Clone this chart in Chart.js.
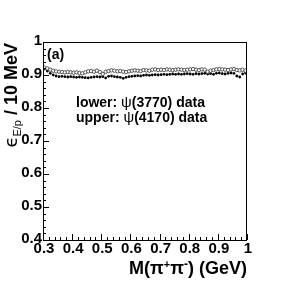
<!DOCTYPE html>
<html><head><meta charset="utf-8">
<script src="https://cdn.jsdelivr.net/npm/chart.js@4/dist/chart.umd.min.js"></script>
<style>html,body{margin:0;padding:0;background:#fff}#w{width:291px;height:283px}</style>
</head><body><div id="w"><canvas id="c" width="291" height="283"></canvas></div>
<script>
const binCenters = [];
for (let i = 0; i < 70; i++) binCenters.push(+(0.305 + 0.01 * i).toFixed(3));
const lower3770 = [
0.918,0.912,0.905,0.900,0.897,0.895,0.896,0.895,0.894,0.895,
0.894,0.893,0.894,0.893,0.892,0.891,0.893,0.894,0.895,0.894,
0.895,0.891,0.896,0.897,0.895,0.894,0.893,0.890,0.893,0.895,
0.896,0.897,0.898,0.897,0.899,0.900,0.899,0.900,0.901,0.900,
0.901,0.902,0.901,0.902,0.903,0.902,0.903,0.902,0.903,0.904,
0.903,0.902,0.904,0.903,0.904,0.905,0.903,0.904,0.902,0.905,
0.906,0.904,0.903,0.905,0.906,0.905,0.897,0.894,0.903,0.906];
const upper4170 = [
0.922,0.920,0.916,0.913,0.911,0.910,0.909,0.908,0.909,0.908,
0.907,0.908,0.906,0.905,0.908,0.911,0.912,0.910,0.913,0.909,
0.903,0.910,0.912,0.914,0.913,0.911,0.912,0.910,0.909,0.911,
0.913,0.914,0.913,0.912,0.915,0.914,0.913,0.916,0.917,0.915,
0.916,0.915,0.917,0.916,0.915,0.916,0.917,0.916,0.915,0.916,
0.917,0.918,0.916,0.915,0.917,0.916,0.910,0.913,0.915,0.917,
0.918,0.917,0.916,0.915,0.917,0.918,0.915,0.914,0.916,0.913];
const xRange = [0.3, 1.0];
const yRange = [0.4, 1.0];
const xTickLabels = ['0.3','0.4','0.5','0.6','0.7','0.8','0.9','1'];
const yTickLabels = ['0.4','0.5','0.6','0.7','0.8','0.9','1'];

const F = '"Liberation Sans", Arial, sans-serif';

const decor = {
  id: 'decor',
  afterDraw(chart) {
    const ctx = chart.ctx, a = chart.chartArea;
    const xs = chart.scales.x, ys = chart.scales.y;
    ctx.save();
    ctx.strokeStyle = '#000'; ctx.lineWidth = 1;
    ctx.strokeRect(a.left + 0.5, a.top + 0.5, a.right - a.left - 1, a.bottom - a.top);
    // ticks
    ctx.beginPath();
    for (let k = 0; k <= 35; k++) {
      const v = xRange[0] + k * 0.02;
      const px = Math.round(xs.getPixelForValue(v)) + 0.5;
      const len = (k % 5 === 0) ? 6 : 3;
      ctx.moveTo(px, a.bottom); ctx.lineTo(px, a.bottom - len);
    }
    for (let k = 0; k <= 30; k++) {
      const v = yRange[0] + k * 0.02;
      const py = Math.round(ys.getPixelForValue(v)) + 0.5;
      const len = (k % 5 === 0) ? 6 : 3;
      ctx.moveTo(a.left, py); ctx.lineTo(a.left + len, py);
    }
    ctx.stroke();
    ctx.fillStyle = '#000';
    // tick labels
    ctx.font = 'bold 15px ' + F;
    ctx.textBaseline = 'middle';
    ctx.textAlign = 'center';
    xTickLabels.forEach(t => ctx.fillText(t, xs.getPixelForValue(parseFloat(t)) + 1, a.bottom + 9));
    ctx.textAlign = 'right';
    yTickLabels.forEach(t => ctx.fillText(t, a.left - 1, ys.getPixelForValue(parseFloat(t)) - 1));
    ctx.textAlign = 'left';
    ctx.font = 'bold 14px ' + F;
    ctx.fillText('(a)', a.left + 4, a.top + 13);
    // legend text
    const drawPsi = (pre, post, x, y) => {
      ctx.font = 'bold 14px ' + F;
      ctx.fillText(pre, x, y);
      let w = ctx.measureText(pre).width;
      ctx.font = '15px ' + F;
      ctx.fillText('\u03C8', x + w, y);
      w += ctx.measureText('\u03C8').width;
      ctx.font = 'bold 14px ' + F;
      ctx.fillText(post, x + w, y);
    };
    drawPsi('lower: ', '(3770) data', a.left + 33, a.top + 61);
    drawPsi('upper: ', '(4170) data', a.left + 33, a.top + 76);
    // x title
    const parts = [['M(\u03C0', 18, 0], ['+', 11, -6], ['\u03C0', 18, 0], ['-', 12, -6], [') (GeV)', 18, 0]];
    let tw = 0;
    parts.forEach(p => { ctx.font = 'bold ' + p[1] + 'px ' + F; tw += ctx.measureText(p[0]).width; });
    let x0 = a.right - tw, yb = 274;
    ctx.textBaseline = 'alphabetic';
    parts.forEach(p => { ctx.font = 'bold ' + p[1] + 'px ' + F; ctx.fillText(p[0], x0, yb + p[2]); x0 += ctx.measureText(p[0]).width; });
    // y title rotated
    ctx.translate(17, a.top + 1);
    ctx.rotate(-Math.PI / 2);
    const yp = [['\u03F5', 18, 0, '', '"DejaVu Sans", ' + F], ['E/p', 11, 4, '', F], [' / 10 MeV', 18, 0, 'bold ', F]];
    let th = 0;
    yp.forEach(p => { ctx.font = p[3] + p[1] + 'px ' + p[4]; th += ctx.measureText(p[0]).width; });
    let xx = -th;
    yp.forEach(p => { ctx.font = p[3] + p[1] + 'px ' + p[4]; ctx.fillText(p[0], xx, p[2]); xx += ctx.measureText(p[0]).width; });
    ctx.restore();
  }
};

new Chart(document.getElementById('c'), {
  type: 'scatter',
  data: {
    datasets: [
      { label: 'upper: psi(4170) data', data: binCenters.map((x, i) => ({x, y: upper4170[i]})),
        pointStyle: 'circle', pointRadius: 1.7, pointBorderWidth: 0.9,
        pointBackgroundColor: '#fff', pointBorderColor: '#444', showLine: false },
      { label: 'lower: psi(3770) data', data: binCenters.map((x, i) => ({x, y: lower3770[i]})),
        pointStyle: 'circle', pointRadius: 1.4, pointBorderWidth: 0,
        pointBackgroundColor: '#000', pointBorderColor: '#000', showLine: false }
    ]
  },
  options: {
    responsive: false, animation: false, devicePixelRatio: 1,
    layout: { padding: { left: 0, right: 44, top: 42, bottom: 0 } },
    plugins: { legend: { display: false }, tooltip: { enabled: false } },
    scales: {
      x: {
        type: 'linear', min: xRange[0], max: xRange[1],
        grid: { display: false }, border: { display: false },
        afterFit: s => { s.height = 43; },
        afterBuildTicks: s => { s.ticks = xTickLabels.map(t => ({ value: parseFloat(t) })); },
        ticks: { display: false }
      },
      y: {
        type: 'linear', min: yRange[0], max: yRange[1],
        grid: { display: false }, border: { display: false },
        afterFit: s => { s.width = 43; },
        afterBuildTicks: s => { s.ticks = yTickLabels.map(t => ({ value: parseFloat(t) })); },
        ticks: { display: false }
      }
    }
  },
  plugins: [decor]
});
</script></body></html>
